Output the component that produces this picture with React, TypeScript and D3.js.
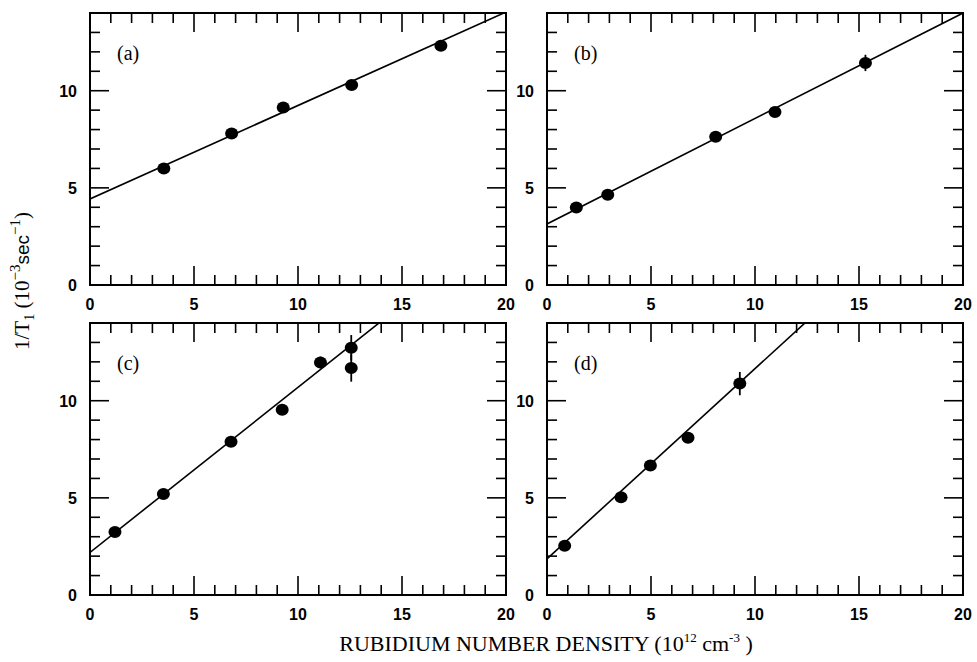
import React, { useEffect, useRef } from "react";
import * as d3 from "d3";

// rubidium number density (10^12 cm^-3) and 1/T1 (10^-3 sec^-1) per panel
const densA = [3.55, 6.81, 9.29, 12.58, 16.87];
const rateA = [6.0, 7.8, 9.14, 10.29, 12.32];
const errA = [0, 0, 0, 0, 0.25];
const fitA = [4.43, 0.481];

const densB = [1.41, 2.92, 8.11, 10.96, 15.31];
const rateB = [3.99, 4.64, 7.63, 8.91, 11.43];
const errB = [0, 0, 0, 0, 0.42];
const fitB = [3.14, 0.543];

const densC = [1.2, 3.53, 6.78, 9.24, 11.08, 12.56, 12.56];
const rateC = [3.24, 5.2, 7.89, 9.54, 11.97, 12.73, 11.68];
const errC = [0, 0, 0, 0, 0.3, 0.65, 0.7];
const fitC = [2.19, 0.85];

const densD = [0.85, 3.56, 4.97, 6.78, 9.27];
const rateD = [2.54, 5.03, 6.67, 8.09, 10.88];
const errD = [0, 0, 0, 0, 0.6];
const fitD = [1.86, 0.979];

const panelLabels = ["(a)", "(b)", "(c)", "(d)"];
const xTickLabels = [0, 5, 10, 15, 20];
const yTickLabels = [0, 5, 10];

const panels = [
    { dens: densA, rate: rateA, err: errA, fit: fitA },
    { dens: densB, rate: rateB, err: errB, fit: fitB },
    { dens: densC, rate: rateC, err: errC, fit: fitC },
    { dens: densD, rate: rateD, err: errD, fit: fitD },
];

const App = () => {
    const svgRef = useRef<SVGSVGElement>(null);

    useEffect(() => {
        const svg = d3.select(svgRef.current);
        svg.selectAll("*").remove();

        const colX = [90, 547];
        const rowY = [13, 323];
        const w = 416;
        const h = 272;

        panels.forEach((p, i) => {
            const left = colX[i % 2];
            const top = rowY[Math.floor(i / 2)];
            const x = d3.scaleLinear().domain([0, 20]).range([0, w]);
            const y = d3.scaleLinear().domain([0, 14]).range([h, 0]);

            const g = svg.append("g").attr("transform", `translate(${left},${top})`);

            g.append("clipPath")
                .attr("id", `clip${i}`)
                .append("rect")
                .attr("width", w)
                .attr("height", h);

            // ticks on all four sides
            const minorX = d3.range(1, 20);
            const minorY = d3.range(1, 14);
            const tk = g.append("g").attr("stroke", "#000").attr("stroke-width", 1.6);
            minorX.forEach((v) => {
                const len = v % 5 === 0 ? 19 : 10;
                tk.append("line").attr("x1", x(v)).attr("x2", x(v)).attr("y1", h).attr("y2", h - len);
                tk.append("line").attr("x1", x(v)).attr("x2", x(v)).attr("y1", 0).attr("y2", len);
            });
            minorY.forEach((v) => {
                const len = v % 5 === 0 ? 19 : 10;
                tk.append("line").attr("y1", y(v)).attr("y2", y(v)).attr("x1", 0).attr("x2", len);
                tk.append("line").attr("y1", y(v)).attr("y2", y(v)).attr("x1", w).attr("x2", w - len);
            });

            g.append("rect")
                .attr("width", w)
                .attr("height", h)
                .attr("fill", "none")
                .attr("stroke", "#000")
                .attr("stroke-width", 2);

            // fit line
            const [b, m] = p.fit;
            const line = d3.line<number>().x((d) => x(d)).y((d) => y(b + m * d));
            g.append("path")
                .attr("clip-path", `url(#clip${i})`)
                .attr("d", line([0, 20]))
                .attr("fill", "none")
                .attr("stroke", "#000")
                .attr("stroke-width", 1.6);

            // error bars and points
            p.dens.forEach((d, j) => {
                if (p.err[j] > 0) {
                    g.append("line")
                        .attr("x1", x(d))
                        .attr("x2", x(d))
                        .attr("y1", y(p.rate[j] - p.err[j]))
                        .attr("y2", y(p.rate[j] + p.err[j]))
                        .attr("stroke", "#000")
                        .attr("stroke-width", 1.8);
                }
                g.append("ellipse")
                    .attr("cx", x(d))
                    .attr("cy", y(p.rate[j]))
                    .attr("rx", 6.5)
                    .attr("ry", 6)
                    .attr("fill", "#000");
            });

            g.append("g")
                .attr("font-family", "Liberation Sans, Arial, sans-serif")
                .attr("font-weight", "bold")
                .attr("font-size", 16)
                .attr("text-anchor", "middle")
                .selectAll("text")
                .data(xTickLabels)
                .join("text")
                .attr("x", (d) => x(d))
                .attr("y", h + 25)
                .text((d) => d);

            g.append("g")
                .attr("font-family", "Liberation Sans, Arial, sans-serif")
                .attr("font-weight", "bold")
                .attr("font-size", 16)
                .attr("text-anchor", "end")
                .selectAll("text")
                .data(yTickLabels)
                .join("text")
                .attr("x", -13)
                .attr("y", (d) => y(d) + 6)
                .text((d) => d);

            g.append("text")
                .attr("x", 27)
                .attr("y", 47)
                .attr("font-family", "Liberation Serif, Times New Roman, serif")
                .attr("font-size", 20)
                .text(panelLabels[i]);
        });

        const xl = svg.append("text")
            .attr("x", 546)
            .attr("y", 651)
            .attr("text-anchor", "middle")
            .attr("font-family", "Liberation Serif, Times New Roman, serif")
            .attr("font-size", 22);
        xl.append("tspan").text("RUBIDIUM NUMBER DENSITY (10");
        xl.append("tspan").attr("font-size", 13).attr("dy", -9).text("12");
        xl.append("tspan").attr("dy", 9).text(" cm");
        xl.append("tspan").attr("font-size", 13).attr("dy", -9).text("-3");
        xl.append("tspan").attr("dy", 9).text(" )");

        const yl = svg.append("text")
            .attr("transform", "translate(29,281) rotate(-90)")
            .attr("text-anchor", "middle")
            .attr("font-family", "Liberation Serif, Times New Roman, serif")
            .attr("font-size", 21);
        yl.append("tspan").text("1/T");
        yl.append("tspan").attr("font-size", 14).attr("dy", 5).text("1");
        yl.append("tspan").attr("dy", -5).text("  (10");
        yl.append("tspan").attr("font-size", 15).attr("dy", -9).text("−3");
        yl.append("tspan").attr("dy", 9).attr("font-family", "Liberation Sans, Arial, sans-serif").attr("font-size", 19).text("sec");
        yl.append("tspan").attr("font-size", 15).attr("dy", -9).text("−1");
        yl.append("tspan").attr("dy", 9).text(")");
    }, []);

    return (
        <div>
            <svg ref={svgRef} width={977} height={662} style={{ display: "block", position: "absolute", left: 0, top: 0, background: "white" }} />
        </div>
    );
};

export default App;
